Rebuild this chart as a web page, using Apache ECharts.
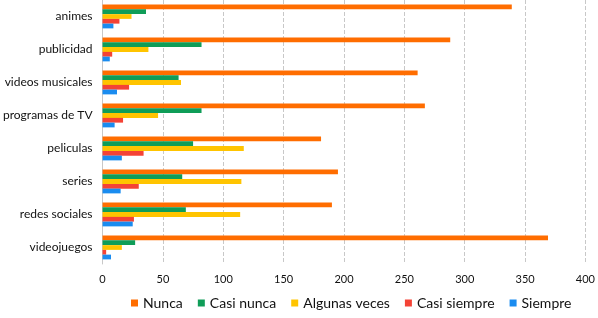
<!DOCTYPE html>
<html>
<head>
<meta charset="utf-8">
<script src="https://cdn.jsdelivr.net/npm/echarts@6/dist/echarts.min.js"></script>
<style>
  html, body { margin: 0; padding: 0; background: #fff; }
  #chart { width: 598px; height: 318px; }
</style>
</head>
<body>
<div id="chart"></div>
<script>
const categories = ['animes', 'publicidad', 'videos musicales', 'programas de TV', 'peliculas', 'series', 'redes sociales', 'videojuegos']
const seriesNames = ['Nunca', 'Casi nunca', 'Algunas veces', 'Casi siempre', 'Siempre']
const nunca = [339, 288, 261, 267, 181, 195, 190, 369]
const casiNunca = [36, 82, 63, 82, 75, 66, 69, 27]
const algunasVeces = [24, 38, 65, 46, 117, 115, 114, 16]
const casiSiempre = [14, 8, 22, 17, 34, 30, 26, 3]
const siempre = [9, 6, 12, 10, 16, 15, 25, 7]
const colors = ['#ff6d00', '#0f9d58', '#ffc400', '#f44336', '#1a8cf0']

const values = [nunca, casiNunca, algunasVeces, casiSiempre, siempre]
const chart = echarts.init(document.getElementById('chart'))

chart.setOption({
  animation: false,
  textStyle: { fontFamily: 'Lato', color: '#111' },
  grid: { left: 98, right: 10, top: 0, bottom: 54 },
  legend: {
    bottom: 3,
    left: 126,
    itemWidth: 7,
    itemHeight: 7,
    itemGap: 15,
    icon: 'rect',
    textStyle: { fontSize: 14, color: '#111' },
    data: seriesNames,
  },
  xAxis: {
    type: 'value',
    min: 0,
    max: 400,
    interval: 50,
    axisLine: { show: false },
    axisTick: { show: false },
    axisLabel: { fontSize: 11, color: '#111', margin: 10 },
    splitLine: { lineStyle: { type: 'dashed', color: '#c8c8c8' } },
  },
  yAxis: {
    type: 'category',
    inverse: true,
    data: categories,
    axisLine: { lineStyle: { color: '#c8c8c8' } },
    axisTick: { show: false },
    axisLabel: { fontSize: 12, color: '#111', margin: 10 },
  },
  series: seriesNames.map((name, i) => ({
    name,
    type: 'bar',
    data: values[i],
    barGap: '0%',
    barCategoryGap: '28%',
    itemStyle: { color: colors[i] },
  })),
})
</script>
</body>
</html>
